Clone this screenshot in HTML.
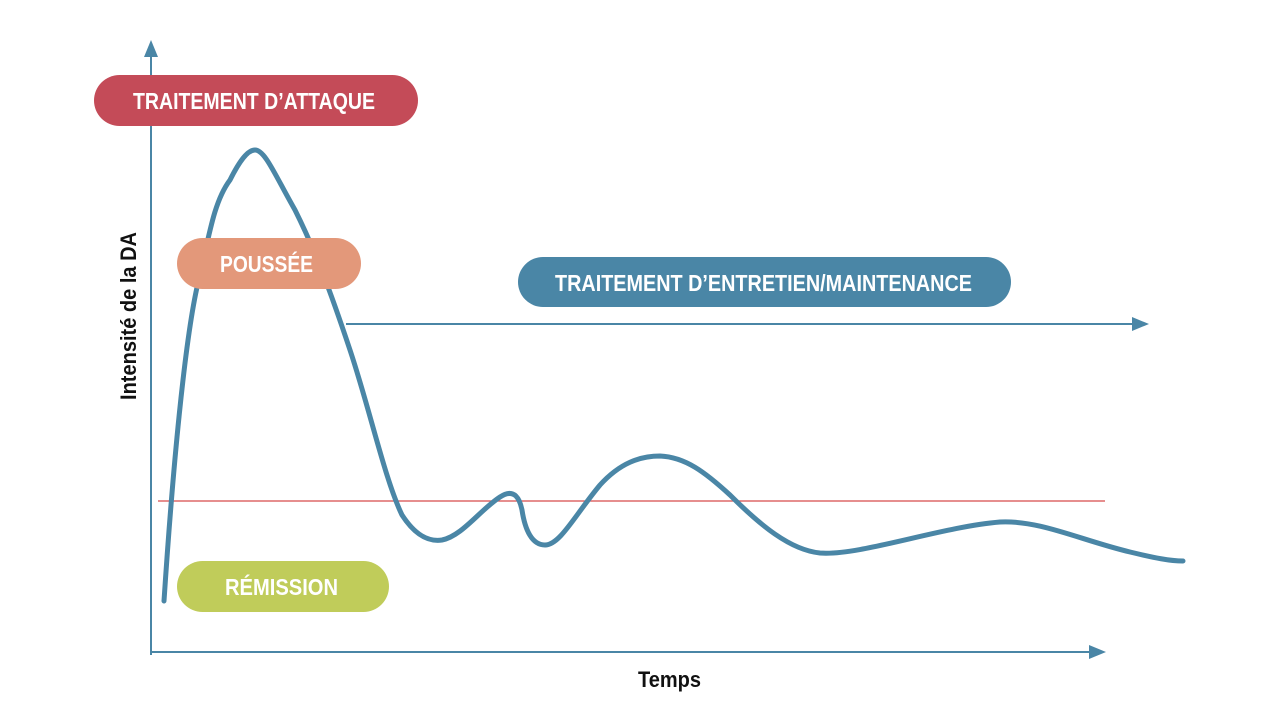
<!DOCTYPE html>
<html><head><meta charset="utf-8"><style>
html,body{margin:0;padding:0;background:#fff;width:1280px;height:716px;overflow:hidden}
text{font-family:"Liberation Sans",sans-serif;font-weight:bold}
</style></head><body>
<svg width="1280" height="716" viewBox="0 0 1280 716" xmlns="http://www.w3.org/2000/svg">
<g stroke="#4a86a6" stroke-width="2" fill="none">
<line x1="151" y1="655" x2="151" y2="52"/>
<line x1="151" y1="652" x2="1092" y2="652"/>
<line x1="346" y1="324" x2="1136" y2="324"/>
</g>
<g fill="#4a86a6">
<polygon points="151,40 144,57 158,57"/>
<polygon points="1106,652 1089,645 1089,659"/>
<polygon points="1149,324 1132,317 1132,331"/>
</g>
<line x1="158" y1="501" x2="1105" y2="501" stroke="#d84a4a" stroke-width="1.3"/>
<path d="M164,601 C172,480 185,330 200,275 C210,230 215,200 230,180 C240,160 248,150 255,150 C265,150 275,175 295,210 C315,250 330,290 350,350 C370,410 385,480 402,515 C415,535 428,542 442,540 C462,536 480,510 500,497 C515,487 520,500 522,510 C525,530 532,545 545,545 C560,545 575,515 600,485 C620,463 640,456 660,456 C685,457 705,472 730,495 C760,525 790,550 820,553 C860,556 940,527 1000,522 C1040,520 1080,540 1130,552 C1155,558 1170,561 1183,561" fill="none" stroke="#4a86a6" stroke-width="5" stroke-linecap="round" stroke-linejoin="round"/>
<rect x="94" y="75" width="324" height="51" rx="25.5" fill="#c44b58"/>
<text x="133" y="109" fill="#fff" font-size="23" textLength="242" lengthAdjust="spacingAndGlyphs">TRAITEMENT D’ATTAQUE</text>
<rect x="177" y="238" width="184" height="51" rx="25.5" fill="#e3987a"/>
<text x="220" y="272" fill="#fff" font-size="23" textLength="93" lengthAdjust="spacingAndGlyphs">POUSSÉE</text>
<rect x="518" y="257" width="493" height="50" rx="25" fill="#4a86a6"/>
<text x="555" y="291" fill="#fff" font-size="23" textLength="417" lengthAdjust="spacingAndGlyphs">TRAITEMENT D’ENTRETIEN/MAINTENANCE</text>
<rect x="177" y="561" width="212" height="51" rx="25.5" fill="#c0cc5a"/>
<text x="225" y="595" fill="#fff" font-size="23" textLength="113" lengthAdjust="spacingAndGlyphs">RÉMISSION</text>
<text x="638" y="687" fill="#111" font-size="22" textLength="63" lengthAdjust="spacingAndGlyphs">Temps</text>
<text transform="translate(136,400) rotate(-90)" fill="#111" font-size="22" textLength="168" lengthAdjust="spacingAndGlyphs">Intensité de la DA</text>
</svg>
</body></html>
